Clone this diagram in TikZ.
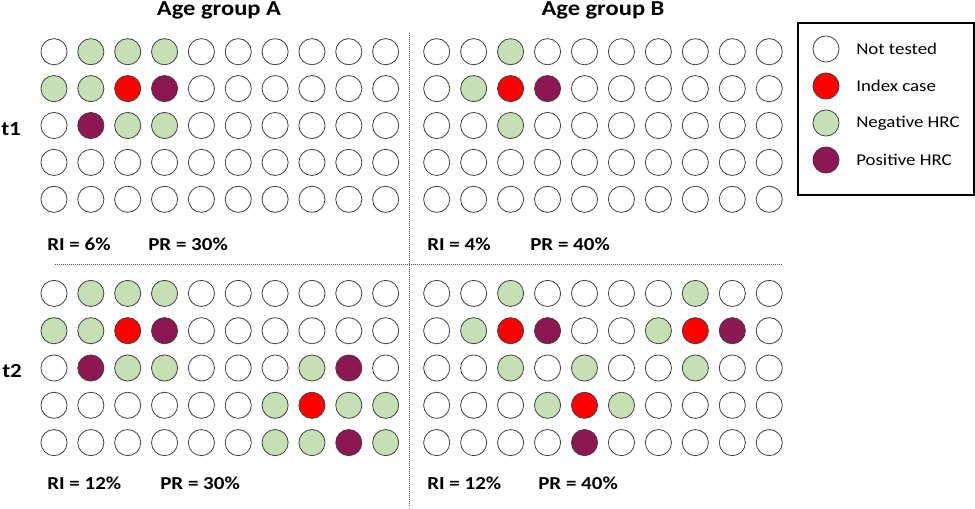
\documentclass[tikz,border=0pt]{standalone}
\usepackage{fontspec}
\setmainfont{Carlito}[FakeStretch=1.15]

\definecolor{hrcO}{HTML}{FFFFFF}
\definecolor{hrcR}{HTML}{FF0000}
\definecolor{hrcG}{HTML}{C5E0B4}
\definecolor{hrcP}{HTML}{8E1652}

\tikzset{
  hrc/.style={circle, draw=black!75, line width=0.6pt, minimum size=19.6pt, inner sep=0pt},
  grouptitle/.style={font=\bfseries\fontsize{16}{19}\selectfont, anchor=base, inner sep=0pt},
  timelbl/.style={font=\bfseries\fontsize{15}{18}\selectfont, anchor=base west, inner sep=0pt},
  ratelbl/.style={font=\bfseries\fontsize{13.7}{16}\selectfont, anchor=base west, inner sep=0pt},
  keylbl/.style={font=\fontsize{12.3}{15}\selectfont, anchor=west, inner sep=0pt},
  divider/.style={black!70, line width=0.75pt, dash pattern=on 0.75pt off 0.75pt}
}

\begin{document}
\begin{tikzpicture}[x=0.75pt, y=-0.75pt]
  \useasboundingbox (0,0) rectangle (975,508);

  % headings
  \node[grouptitle] (titleA) at (219,15.5) {Age group A};
  \node[grouptitle] (titleB) at (603,15.5) {Age group B};
  \node[timelbl] (t1) at (1,135) {t1};
  \node[timelbl] (t2) at (2,377) {t2};

  % dividers
  \draw[divider] (409.5,33) -- (409.5,506);
  \draw[divider] (55,264.5) -- (783,264.5);

  % age group A, t1
  \begin{scope}[shift={(54,51.7)}]
    \foreach \row [count=\r] in {{O,G,G,G,O,O,O,O,O,O},{G,G,R,P,O,O,O,O,O,O},
        {O,P,G,G,O,O,O,O,O,O},{O,O,O,O,O,O,O,O,O,O},{O,O,O,O,O,O,O,O,O,O}}
      \foreach \s [count=\c] in \row
        \node[hrc, fill=hrc\s] (A1-\r-\c) at ({(\c-1)*36.85},{(\r-1)*36.9}) {};
  \end{scope}

  % age group B, t1
  \begin{scope}[shift={(436.7,51.7)}]
    \foreach \row [count=\r] in {{O,O,G,O,O,O,O,O,O,O},{O,G,R,P,O,O,O,O,O,O},
        {O,O,G,O,O,O,O,O,O,O},{O,O,O,O,O,O,O,O,O,O},{O,O,O,O,O,O,O,O,O,O}}
      \foreach \s [count=\c] in \row
        \node[hrc, fill=hrc\s] (B1-\r-\c) at ({(\c-1)*36.95},{(\r-1)*36.9}) {};
  \end{scope}

  % age group A, t2
  \begin{scope}[shift={(54,293.4)}]
    \foreach \row [count=\r] in {{O,G,G,G,O,O,O,O,O,O},{G,G,R,P,O,O,O,O,O,O},
        {O,P,G,G,O,O,O,G,P,O},{O,O,O,O,O,O,G,R,G,G},{O,O,O,O,O,O,G,G,P,G}}
      \foreach \s [count=\c] in \row
        \node[hrc, fill=hrc\s] (A2-\r-\c) at ({(\c-1)*36.85},{(\r-1)*37.3}) {};
  \end{scope}

  % age group B, t2
  \begin{scope}[shift={(436.7,293.4)}]
    \foreach \row [count=\r] in {{O,O,G,O,O,O,O,G,O,O},{O,G,R,P,O,O,G,R,P,O},
        {O,O,G,O,G,O,O,G,O,O},{O,O,O,G,R,G,O,O,O,O},{O,O,O,O,P,O,O,O,O,O}}
      \foreach \s [count=\c] in \row
        \node[hrc, fill=hrc\s] (B2-\r-\c) at ({(\c-1)*36.95},{(\r-1)*37.3}) {};
  \end{scope}

  % rates
  \node[ratelbl] (riA1) at (47,250.5) {RI = 6\%};
  \node[ratelbl] (prA1) at (148,250.5) {PR = 30\%};
  \node[ratelbl] (riB1) at (427,250.5) {RI = 4\%};
  \node[ratelbl] (prB1) at (530,250.5) {PR = 40\%};
  \node[ratelbl] (riA2) at (47,489) {RI = 12\%};
  \node[ratelbl] (prA2) at (160,489) {PR = 30\%};
  \node[ratelbl] (riB2) at (427,489) {RI = 12\%};
  \node[ratelbl] (prB2) at (538,489) {PR = 40\%};

  % legend
  \draw[line width=1.1pt] (798,23) rectangle (974,195);
  \foreach \s/\txt [count=\k] in {O/Not tested, R/Index case, G/Negative HRC, P/Positive HRC} {
    \node[hrc, fill=hrc\s] (key\k) at (826,{12+37*\k}) {};
    \node[keylbl] (keytxt\k) at (856,{12+37*\k}) {\txt};
  }
\end{tikzpicture}
\end{document}
